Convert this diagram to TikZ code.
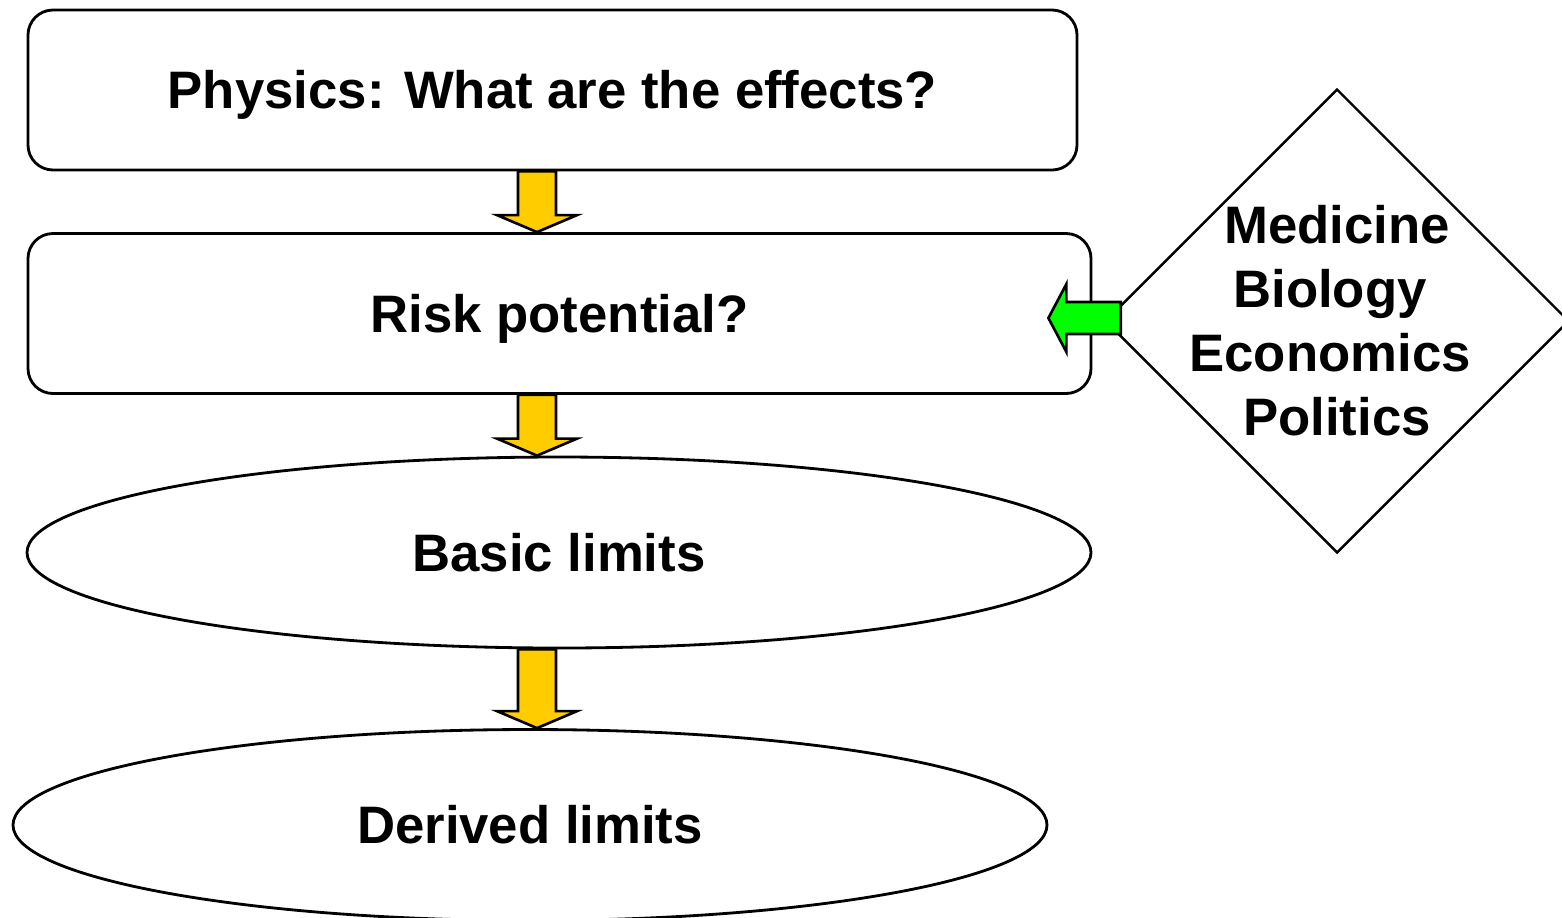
\documentclass[tikz,border=0pt]{standalone}
\usepackage{fontspec}
\setmainfont{Liberation Sans}
\usetikzlibrary{shapes.geometric,calc}

\definecolor{arrowyellow}{HTML}{FFCC00}
\definecolor{arrowgreen}{HTML}{00FF00}

\begin{document}
\begin{tikzpicture}[
  bigfont/.style={font=\bfseries\fontsize{15}{18.2}\selectfont},
  stepbox/.style={rectangle, draw, rounded corners=0.25cm, line width=0.8pt,
    minimum width=#1, minimum height=1.6cm, inner sep=0pt,
    text height=10.7pt, text depth=0pt, bigfont},
  limitbox/.style={ellipse, draw, line width=0.8pt,
    minimum width=#1, minimum height=1.91cm, inner sep=0pt,
    text height=10.7pt, text depth=0pt, bigfont},
  fieldbox/.style={diamond, draw, line width=0.7pt,
    minimum width=4.64cm, minimum height=4.64cm, inner sep=0pt},
  fieldtext/.style={align=center, inner sep=0pt, bigfont},
  downarrow/.style={draw, line width=0.75pt, fill=arrowyellow,
    to path={let \p1=(\tikztostart), \p2=(\tikztotarget) in
      (\x1-0.19cm,\y1) -- (\x1-0.19cm,\y2+0.17cm) -- (\x1-0.40cm,\y2+0.17cm)
      -- (\x1,\y2) -- (\x1+0.40cm,\y2+0.17cm) -- (\x1+0.19cm,\y2+0.17cm)
      -- (\x1+0.19cm,\y1) -- cycle}},
  leftarrow/.style={draw, line width=0.75pt, fill=arrowgreen,
    to path={let \p1=(\tikztostart), \p2=(\tikztotarget) in
      (\x1,\y1+0.16cm) -- (\x2+0.18cm,\y1+0.16cm) -- (\x2+0.18cm,\y1+0.34cm)
      -- (\x2,\y1) -- (\x2+0.18cm,\y1-0.34cm) -- (\x2+0.18cm,\y1-0.16cm)
      -- (\x1,\y1-0.16cm) -- cycle}}
]
\useasboundingbox (0,0) rectangle (15.62,-9.17);

% Main chain
\node[stepbox=10.49cm] (physics) at (5.525,-0.90) {Physics: What are the effects?};
\node[stepbox=10.63cm] (risk) at (5.595,-3.135) {Risk potential?};
\node[limitbox=10.64cm] (basic) at (5.59,-5.525) {Basic limits};
\node[limitbox=10.34cm] (derived) at (5.30,-8.25) {Derived limits};

% Other fields
\node[fieldbox] (fields) at (13.37,-3.21) {};
\node[fieldtext] (fieldnames) at (fields.center)
  {Medicine\\Biology\kern0.14cm\\Economics\kern0.14cm\\Politics};

% Arrows
\coordinate (col) at (5.37,0);
\draw[downarrow] (physics.south -| col) to (risk.north -| col);
\draw[downarrow] (risk.south -| col) to (basic.north -| col);
\draw[downarrow] (basic.south -| col) to (derived.north -| col);
\draw[leftarrow] ([xshift=0.17cm,yshift=0.03cm]fields.west) to ([xshift=-0.44cm]risk.east);

\end{tikzpicture}
\end{document}
